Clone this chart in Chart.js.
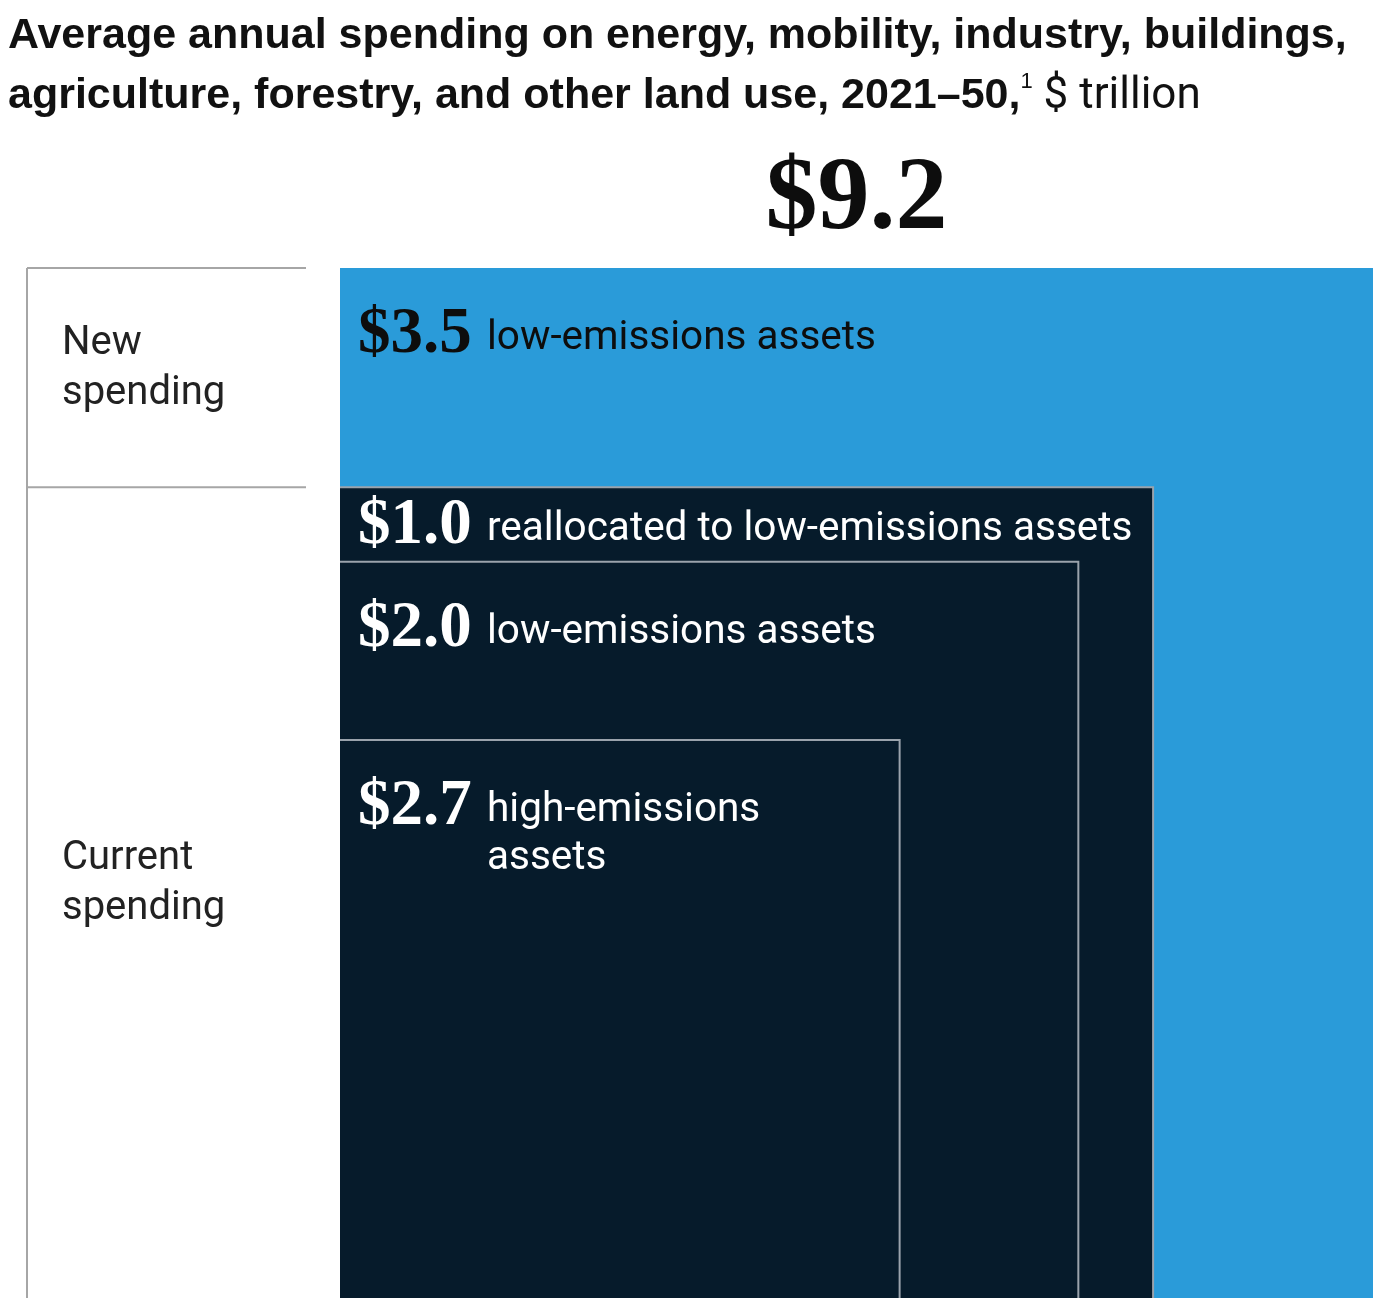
<!DOCTYPE html>
<html>
<head>
<meta charset="utf-8">
<script src="https://cdn.jsdelivr.net/npm/chart.js@4.4.1/dist/chart.umd.min.js"></script>
<style>
  body { margin: 0; background: #fff; }
  #wrap { position: relative; width: 1373px; height: 1298px; overflow: hidden; }
  #chart { position: absolute; left: 0; top: 0; }
  #title {
    position: absolute; left: 8px; top: 3px;
    font-family: "Liberation Sans", Arial, sans-serif;
    font-size: 43px; line-height: 60px; color: #111; font-weight: bold;
    white-space: nowrap;
  }
  #title .reg { font-weight: normal; font-family: Roboto, sans-serif; font-size: 44px; }
  #title sup { font-size: 22px; font-weight: normal; vertical-align: 20px; line-height: 0; }
</style>
</head>
<body>
<div id="wrap">
  <canvas id="chart" width="1373" height="1298"></canvas>
  <div id="title">Average annual spending on energy, mobility, industry, buildings,<br>agriculture, forestry, and other land use, 2021–50,<sup>1</sup><span class="reg"> $ trillion</span></div>
</div>
<script>
// parts of the total, outermost first ($ trillion)
const components = [3.5, 1.0, 2.0, 2.7];
const componentLabels = ["$3.5", "$1.0", "$2.0", "$2.7"];
const descriptions = [
  ["low-emissions assets"],
  ["reallocated to low-emissions assets"],
  ["low-emissions assets"],
  ["high-emissions", "assets"],
];
const totalLabel = "$9.2";
const groupLabels = [["New", "spending"], ["Current", "spending"]];

const colors = ["#2a9bd9", "#061b2b", "#061b2b", "#061b2b"];
const borders = ["rgba(0,0,0,0)", "#9aa3ac", "#9aa3ac", "#9aa3ac"];

// each square holds its own part plus everything inside it; side = sqrt(area)
const totals = components.map((v, i) => components.slice(i).reduce((a, b) => a + b, 0));
const sides = totals.map((t) => Math.sqrt(t));

const datasets = sides.map((s, i) => ({
  label: componentLabels[i],
  data: [
    { x: 0, y: s },
    { x: s, y: s },
    { x: s, y: 0 },
  ],
  showLine: true,
  fill: "origin",
  backgroundColor: colors[i],
  borderColor: borders[i],
  borderWidth: i === 0 ? 0 : 2,
  pointRadius: 0,
  tension: 0,
  order: sides.length - i, // big square underneath
}));

const labelPlugin = {
  id: "squareLabels",
  afterDatasetsDraw(chart) {
    const { ctx, chartArea } = chart;
    const xs = chart.scales.x;
    const ys = chart.scales.y;
    const tops = sides.map((s) => ys.getPixelForValue(s));
    ctx.save();

    // left bracket
    ctx.strokeStyle = "#a6a6a6";
    ctx.lineWidth = 2;
    ctx.beginPath();
    ctx.moveTo(27, tops[0]);
    ctx.lineTo(27, chart.height);
    ctx.moveTo(27, tops[0]);
    ctx.lineTo(306, tops[0]);
    ctx.moveTo(27, tops[1]);
    ctx.lineTo(306, tops[1]);
    ctx.stroke();

    ctx.fillStyle = "#222";
    ctx.font = "40px Roboto";
    ctx.textAlign = "left";
    ctx.textBaseline = "alphabetic";
    const bands = [[tops[0], tops[1]], [tops[1], chart.height]];
    groupLabels.forEach((lines, g) => {
      const mid = (bands[g][0] + bands[g][1]) / 2;
      lines.forEach((t, k) => ctx.fillText(t, 62, mid - 24 + k * 50));
    });

    // total above the big square
    ctx.fillStyle = "#0d0d0d";
    ctx.font = "bold 104px 'Liberation Serif'";
    ctx.textAlign = "center";
    ctx.fillText(totalLabel, xs.getPixelForValue(sides[0] / 2), tops[0] - 40);

    // labels inside each square
    ctx.textAlign = "left";
    components.forEach((v, i) => {
      const next = i < tops.length - 1 ? tops[i + 1] : chartArea.bottom;
      const base = tops[i] + Math.min((next - tops[i]) / 2 + 18, 84);
      ctx.fillStyle = i === 0 ? "#0d0d0d" : "#ffffff";
      ctx.font = "bold 65px 'Liberation Serif'";
      ctx.fillText(componentLabels[i], chartArea.left + 18, base);
      ctx.font = "40.5px Roboto";
      descriptions[i].forEach((t, k) => ctx.fillText(t, chartArea.left + 147, base - 3 + k * 48));
    });
    ctx.restore();
  },
};

new Chart(document.getElementById("chart"), {
  type: "scatter",
  data: { datasets: datasets },
  options: {
    responsive: false,
    animation: false,
    events: [],
    layout: { padding: { left: 340, top: 268, right: 0, bottom: 0 } },
    scales: {
      x: { type: "linear", min: 0, max: sides[0], display: false },
      y: { type: "linear", min: 0, max: sides[0], display: false },
    },
    plugins: {
      legend: { display: false },
      tooltip: { enabled: false },
    },
  },
  plugins: [labelPlugin],
});
</script>
</body>
</html>
